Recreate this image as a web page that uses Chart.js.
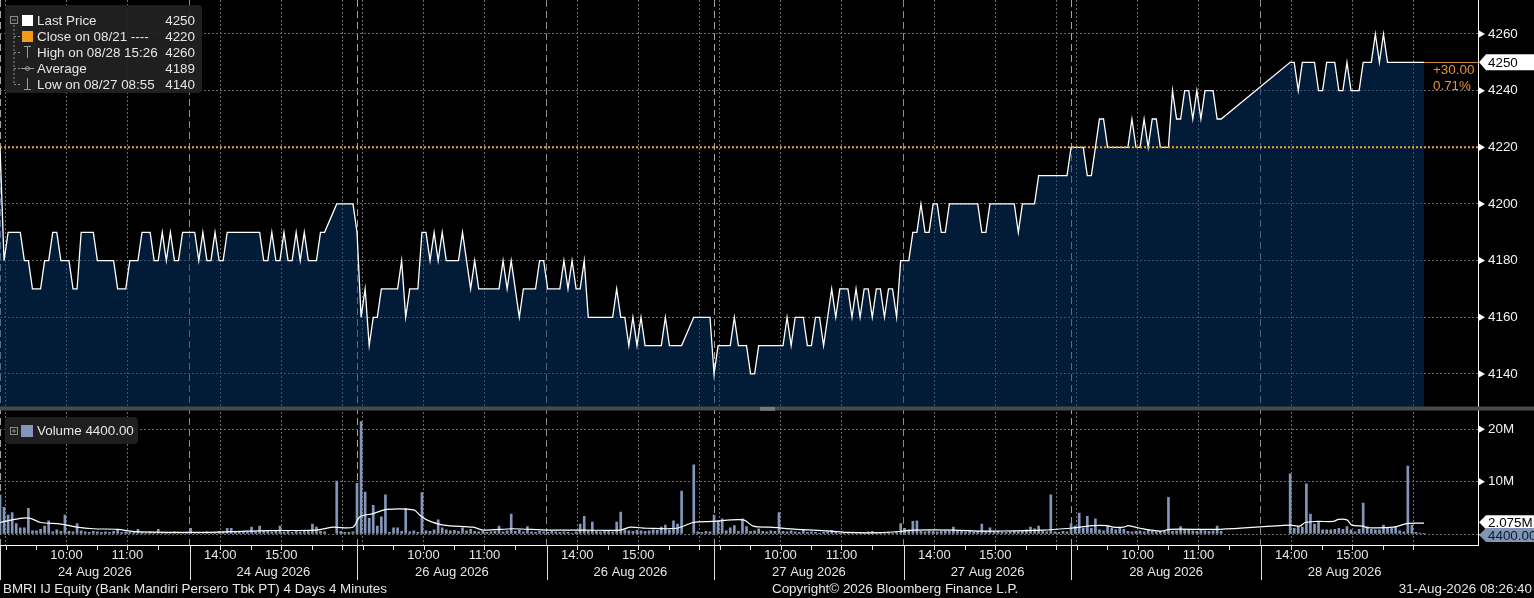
<!DOCTYPE html>
<html>
<head>
<meta charset="utf-8">
<title>BMRI IJ Equity</title>
<script src="https://cdn.jsdelivr.net/npm/chart.js@4.4.1/dist/chart.umd.min.js"></script>
<style>
  html, body { margin: 0; padding: 0; background: #000; }
  #wrap { position: relative; width: 1534px; height: 598px; background: #000; }
</style>
</head>
<body>
<div id="wrap"><canvas id="myChart"></canvas></div>
<script>
Chart.defaults.font.family = '"Liberation Sans", Arial, sans-serif';
Chart.defaults.font.size = 13;
Chart.defaults.color = '#e6e6e6';

// --- sesiones: 4 dias de 88 barras de 4 minutos ---
const SLOTS_PER_DAY = 88;
const X_MAX = 364.3;
const dayLabels = ['24 Aug 2026', '26 Aug 2026', '27 Aug 2026', '28 Aug 2026'];
const dayGridOffsets = [0, 1.4, 16.4, 31.4, 46.8, 54.3, 69.3, 84.3];
const dayGridLabels = ['', '', '10:00', '11:00', '', '14:00', '15:00', ''];
const dayGridKinds = ['day', 'hour', 'hour', 'hour', 'session', 'hour', 'hour', 'hour'];
const halfHourOffsets = [8.9, 23.9, 38.9, 61.8, 76.8];
const sessionCenters = [23.4, 67.4];

// --- precio (ultimo) por barra ---
const priceDay1 = [
  4220,4180,4190,4190,4190,4190,4180,4180,4170,4170,
  4170,4180,4180,4190,4190,4180,4180,4180,4170,4170,
  4190,4190,4190,4190,4180,4180,4180,4180,4180,4170,
  4170,4170,4180,4180,4180,4190,4190,4190,4180,4180,
  4190,4180,4190,4180,4180,4190,4190,4190,4190,4180,
  4190,4180,4180,4190,4180,4180,4190,4190,4190,4190,
  4190,4190,4190,4190,4190,4180,4180,4190,4180,4180,
  4190,4180,4180,4190,4180,4190,4180,4180,4180,4190,
  4190,null,null,4200,4200,4200,4200,4200
];
const priceDay2 = [
  4190,4160,4170,4150,4160,4160,4170,4170,4170,4170,
  4170,4180,4160,4170,4170,4170,4190,4190,4180,4190,
  4180,4190,4180,4180,4180,4180,4190,4180,4170,4180,
  4170,4170,4170,4170,4170,4170,4180,4170,4180,4170,
  4160,4170,4170,4170,4170,4180,4180,4170,4170,4170,
  4170,4180,4170,4180,4170,4170,4180,4160,4160,4160,
  4160,4160,4160,4160,4170,4160,4160,4150,4160,4150,
  4160,4150,4150,4150,4150,4150,4160,4150,4150,4150,
  4150,null,null,4160,4160,4160,4160,4160
];
const priceDay3 = [
  4140,4150,4150,4150,4150,4160,4150,4150,4150,4140,
  4140,4150,4150,4150,4150,4150,4150,4150,4160,4150,
  4160,4160,4160,4150,4150,4160,4160,4150,4160,4170,
  4160,4170,4170,4170,4160,4170,4160,4170,4170,4160,
  4170,4170,4160,4170,4170,4160,4180,4180,4180,4190,
  4190,4200,4190,4190,4200,4200,4190,4190,4200,4200,
  4200,4200,4200,4200,4200,4200,4190,4190,4200,4200,
  4200,4200,4200,4200,4200,4190,4200,4200,4200,4200,
  4210,4210,4210,4210,4210,4210,4210,4210
];
const priceDay4 = [
  4220,4220,4220,4220,4210,4210,4220,4230,4230,4220,
  4220,4220,4220,4220,4220,4230,4220,4220,4230,4220,
  4230,4230,4220,4220,4220,4240,4230,4230,4240,4240,
  4230,4240,4230,4240,4240,4240,4230,4230,null,null,
  null,null,null,null,null,null,null,null,null,null,
  null,null,null,null,4250,4250,4240,4250,4250,4250,
  4250,4240,4240,4250,4250,4250,4240,4240,4250,4240,
  4240,4240,4250,4250,4250,4260,4250,4260,4250,4250,
  4250,4250,4250,4250,4250,4250,4250,4250
];

// --- volumen por barra (millones) ---
const volumeDay1 = [
  7.5,5.1,3.6,4.1,2.0,1.2,1.2,4.9,0.6,0.6,
  0.9,1.5,2.5,0.4,0.8,0.5,3.6,0.5,0.4,2.0,
  0.6,0.4,0.3,0.5,0.4,0.3,0.4,0.3,0.5,0.9,
  0.3,0.4,0.3,0.5,0.9,0.3,0.2,0.4,0.3,0.9,
  0.3,0.2,0.3,0.4,0.2,0.3,0.3,1.1,0.3,0.2,
  0.3,0.4,0.2,0.3,0.5,0.4,1.1,1.1,0.4,0.3,
  0.5,0.4,1.3,0.4,1.5,0.5,0.6,0.4,0.5,1.5,
  0.4,0.5,0.3,0.6,0.4,0.5,0.6,1.9,1.3,0.5,
  0.4,null,null,10.1,0.5,0.3,0.3,0.4
];
const volumeDay2 = [
  9.7,21.5,8.0,3.0,5.5,1.5,3.3,7.5,0.3,1.2,
  1.2,0.5,4.9,0.4,0.6,0.3,7.9,0.6,0.5,0.8,
  2.7,1.2,0.8,0.6,0.7,0.5,1.2,0.6,0.9,0.5,
  0.4,0.5,0.3,0.4,0.5,1.5,0.4,0.6,3.8,0.5,
  0.8,0.4,1.4,0.4,0.3,0.5,0.4,0.3,0.5,0.4,
  0.3,0.4,0.3,0.2,0.4,1.9,3.4,0.6,2.3,0.5,
  0.4,0.6,0.5,0.4,2.3,4.2,0.8,0.6,0.5,0.7,
  0.6,0.5,0.6,0.8,0.7,1.3,1.7,0.8,2.5,1.9,
  8.2,null,null,13.2,0.4,0.3,0.5,0.4
];
const volumeDay3 = [
  3.6,2.5,2.9,0.6,1.2,1.6,0.5,2.9,1.4,0.5,
  0.6,1.0,0.5,0.4,0.6,0.5,4.1,0.5,0.4,0.6,
  0.4,0.3,0.9,0.3,0.4,0.3,0.2,0.3,0.4,0.7,
  0.3,0.2,0.3,0.2,0.3,0.2,0.3,0.2,0.4,0.5,
  0.2,0.3,0.2,0.3,0.2,0.3,2.0,1.1,0.8,2.4,
  2.5,0.5,0.4,0.6,0.5,0.4,0.5,0.6,0.5,1.3,
  0.6,0.5,0.4,0.5,0.4,0.5,1.9,0.5,1.2,0.4,
  0.5,0.4,0.3,0.4,0.5,0.4,0.5,0.8,1.3,1.0,
  1.5,0.5,0.4,7.5,0.4,0.3,0.5,0.4
];
const volumeDay4 = [
  2.0,1.5,4.0,1.1,3.4,1.1,2.9,0.8,0.6,1.5,
  1.1,0.8,1.1,0.9,0.5,0.4,0.5,0.6,0.4,0.9,
  0.5,0.4,0.5,0.6,7.0,0.5,0.6,1.4,0.8,0.7,
  0.6,0.5,0.7,0.6,0.5,0.6,1.5,0.5,null,null,
  null,null,null,null,null,null,null,null,null,null,
  null,null,null,null,11.5,1.1,1.5,1.3,9.6,3.8,
  1.9,2.4,0.8,0.8,0.8,0.9,1.1,0.9,1.4,0.8,
  0.4,0.9,5.9,1.4,0.9,0.8,0.8,1.7,1.1,1.1,
  1.4,0.6,0.4,13.0,1.7,0.3,0.2,0.0044
];

const maSlots = [0,5,7.5,10,15,19,23,29,33,49,57.5,65.7,78,82,87,88.7,92,95.3,102,103.5,105.2,109.3,116.7,119,126.5,134.8,143.8,152.9,155.3,159.4,166.8,170.9,175.8,183.2,185.7,189.8,196.4,204.6,208.7,216.9,222.6,225.1,235,241.6,244.9,257.2,263.8,266.2,269.5,272.8,274.4,276.9,278.1,281,285.9,288.4,300.7,317.9,320.4,321.7,324.6,328.7,329.9,332,333.2,336.1,336.9,343.5,346.8,351];
const maValues = [2.2,3.0,3.0,2.2,1.9,1.3,1.0,0.9,0.45,0.3,0.45,0.65,0.75,1.3,1.3,3.3,3.9,4.7,4.6,3.6,2.7,1.7,1.3,0.75,1.0,0.75,0.75,0.75,1.3,1.1,1.1,2.2,2.4,2.7,1.5,1.3,0.9,0.55,0.3,0.25,0.55,0.75,0.75,0.55,0.55,0.75,1.1,1.3,1.6,1.6,1.3,1.3,1.6,1.1,0.55,0.9,0.9,1.7,1.5,2.2,2.4,2.4,2.8,2.7,1.7,1.5,1.2,1.3,2.0,2.075];

const priceTicks = [4140,4150,4160,4170,4180,4190,4200,4210,4220,4230,4240,4250,4260];
const volumeTicks = [0, 5, 10, 15, 20];
const volumeTickLabels = ['', '', '10M', '', '20M'];

const prevClose = 4220;
const lastPrice = 4250;
const changeTexts = ['+30.00', '0.71%'];
const legendNames = ['Last Price', 'Close on 08/21 ----', 'High on 08/28 15:26', 'Average', 'Low on 08/27 08:55'];
const legendValues = ['4250', '4220', '4260', '4189', '4140'];
const volumeLegend = 'Volume 4400.00';
const lastVolumeText = '4400.00';
const lastAvgText = '2.075M';
const footerLeft = 'BMRI IJ Equity (Bank Mandiri Persero Tbk PT) 4 Days 4 Minutes';
const footerCenter = 'Copyright\u00a9 2026 Bloomberg Finance L.P.';
const footerRight = '31-Aug-2026 08:26:40';

const prices = [...priceDay1, ...priceDay2, ...priceDay3, ...priceDay4];
const volumes = [...volumeDay1, ...volumeDay2, ...volumeDay3, ...volumeDay4];

const xTicks = [];
dayLabels.forEach((_, d) => {
    dayGridOffsets.forEach((off, k) => {
        xTicks.push({ v: d * SLOTS_PER_DAY + off, label: dayGridLabels[k], kind: dayGridKinds[k] });
    });
});

const gridStyle = {
    day: { color: '#a3a3a3', dash: [7, 4] },
    session: { color: '#8c8c8c', dash: [7, 4] },
    hour: { color: '#6c6c6c', dash: [2, 2] }
};

const FONT = '13.4px "Liberation Sans", Arial, sans-serif';

function tagBox(ctx, left, right, yMid, h, fill, text, textColor) {
    ctx.beginPath();
    ctx.moveTo(left, yMid);
    ctx.lineTo(left + 7, yMid - h / 2);
    ctx.lineTo(right, yMid - h / 2);
    ctx.lineTo(right, yMid + h / 2);
    ctx.lineTo(left + 7, yMid + h / 2);
    ctx.closePath();
    ctx.fillStyle = fill;
    ctx.fill();
    ctx.fillStyle = textColor;
    ctx.textAlign = 'left';
    ctx.textBaseline = 'middle';
    ctx.fillText(text, left + 9, yMid + 1);
}

function roundBox(ctx, x, y, w, h, r, fill) {
    ctx.beginPath();
    ctx.moveTo(x + r, y);
    ctx.arcTo(x + w, y, x + w, y + h, r);
    ctx.arcTo(x + w, y + h, x, y + h, r);
    ctx.arcTo(x, y + h, x, y, r);
    ctx.arcTo(x, y, x + w, y, r);
    ctx.closePath();
    ctx.fillStyle = fill;
    ctx.fill();
}

// dibujos extra estilo terminal: leyendas, etiquetas, separador, fechas
const terminalExtras = {
    id: 'terminalExtras',
    afterDraw(chart) {
        const { ctx, chartArea, scales } = chart;
        const xs = scales.x, ys = scales.y, yv = scales.yv;
        const W = chart.width;
        ctx.save();
        ctx.font = FONT;

        // linea naranja del ultimo precio hasta el eje
        const lastX = xs.getPixelForValue(prices.length - 1);
        const lastY = Math.round(ys.getPixelForValue(lastPrice)) + 0.5;
        ctx.strokeStyle = '#d08d3c';
        ctx.lineWidth = 1;
        ctx.beginPath();
        ctx.moveTo(lastX, lastY);
        ctx.lineTo(chartArea.right, lastY);
        ctx.stroke();
        ctx.fillStyle = '#e39334';
        ctx.textAlign = 'left';
        ctx.textBaseline = 'middle';
        ctx.fillText(changeTexts[0], 1433, 70);
        ctx.fillText(changeTexts[1], 1433, 86);

        // separador entre paneles
        const sepY = ys.bottom;
        ctx.fillStyle = '#4a4a4a';
        ctx.fillRect(0, sepY - 2, W, 4);
        ctx.strokeStyle = '#a8a8a8';
        ctx.beginPath();
        ctx.moveTo(760, sepY - 0.5); ctx.lineTo(775, sepY - 0.5);
        ctx.moveTo(760, sepY + 1.5); ctx.lineTo(775, sepY + 1.5);
        ctx.stroke();

        // triangulos en ticks con etiqueta
        const ax = chartArea.right;
        ctx.fillStyle = '#ffffff';
        const tri = (py) => {
            ctx.beginPath();
            ctx.moveTo(ax + 1, py - 3.5);
            ctx.lineTo(ax + 7, py);
            ctx.lineTo(ax + 1, py + 3.5);
            ctx.closePath();
            ctx.fill();
        };
        priceTicks.forEach(v => { if (v % 20 === 0) tri(ys.getPixelForValue(v)); });
        volumeTicks.forEach((v, i) => { if (volumeTickLabels[i]) tri(yv.getPixelForValue(v)); });

        // etiquetas de valor en el eje
        tagBox(ctx, ax + 1, W, ys.getPixelForValue(lastPrice), 16, '#ffffff', String(lastPrice), '#000000');
        const maLast = maValues[maValues.length - 1];
        tagBox(ctx, ax + 1, W, yv.getPixelForValue(maLast) - 1, 14, '#ffffff', lastAvgText, '#000000');
        tagBox(ctx, ax + 1, W, yv.getPixelForValue(0) + 1, 14, '#8094b6', lastVolumeText, '#0e1a30');

        // leyenda del precio
        roundBox(ctx, 5, 5, 197, 88, 4, 'rgba(34,34,34,0.92)');
        ctx.strokeStyle = '#8a8a8a';
        ctx.lineWidth = 1;
        ctx.strokeRect(10.5, 16.5, 7, 7);
        ctx.beginPath(); ctx.moveTo(12, 20); ctx.lineTo(16, 20); ctx.stroke();
        ctx.setLineDash([2, 2]);
        ctx.beginPath();
        ctx.moveTo(14, 25); ctx.lineTo(14, 85);
        [36.5, 52.5, 68.5, 84.5].forEach(yy => { ctx.moveTo(14, yy); ctx.lineTo(20, yy); });
        ctx.stroke();
        ctx.setLineDash([]);
        ctx.fillStyle = '#ffffff';
        ctx.fillRect(22, 15, 11, 11);
        ctx.fillStyle = '#f39a1e';
        ctx.fillRect(22, 31, 11, 11);
        ctx.strokeStyle = '#9a9a9a';
        ctx.beginPath();
        ctx.moveTo(27.5, 46); ctx.lineTo(27.5, 58);
        ctx.moveTo(24, 46.5); ctx.lineTo(31, 46.5);
        ctx.moveTo(21, 68.5); ctx.lineTo(34, 68.5);
        ctx.moveTo(27.5, 78); ctx.lineTo(27.5, 90);
        ctx.moveTo(24, 89.5); ctx.lineTo(31, 89.5);
        ctx.stroke();
        ctx.beginPath(); ctx.arc(27.5, 68.5, 2, 0, Math.PI * 2); ctx.stroke();
        ctx.fillStyle = '#e6e6e6';
        ctx.textBaseline = 'middle';
        legendNames.forEach((name, i) => {
            const yy = 21 + 16 * i;
            ctx.textAlign = 'left';
            ctx.fillText(name, 37, yy);
            ctx.textAlign = 'right';
            ctx.fillText(legendValues[i], 195, yy);
        });

        // leyenda del volumen
        roundBox(ctx, 5, 417, 133, 27, 4, 'rgba(34,34,34,0.92)');
        ctx.strokeStyle = '#8a8a8a';
        ctx.strokeRect(10.5, 427.5, 7, 7);
        ctx.beginPath();
        ctx.moveTo(12, 431); ctx.lineTo(16, 431);
        ctx.moveTo(14, 429); ctx.lineTo(14, 433);
        ctx.stroke();
        ctx.fillStyle = '#8296b9';
        ctx.fillRect(21, 425, 12, 12);
        ctx.fillStyle = '#e6e6e6';
        ctx.textAlign = 'left';
        ctx.fillText(volumeLegend, 37, 431);

        // marcas del eje de tiempo, separadores de sesion y fechas
        const axisY = chartArea.bottom;
        ctx.strokeStyle = '#e0e0e0';
        ctx.beginPath();
        dayLabels.forEach((label, d) => {
            const base = d * SLOTS_PER_DAY;
            halfHourOffsets.forEach(off => {
                const px = Math.round(xs.getPixelForValue(base + off)) + 0.5;
                ctx.moveTo(px, axisY); ctx.lineTo(px, axisY + 5);
            });
            dayGridOffsets.forEach((off, k) => {
                const px = Math.round(xs.getPixelForValue(base + off)) + 0.5;
                const len = dayGridKinds[k] === 'hour' ? 5 : 35;
                ctx.moveTo(px, axisY); ctx.lineTo(px, axisY + len);
            });
        });
        ctx.stroke();
        ctx.font = '13px "Liberation Sans", Arial, sans-serif';
        ctx.fillStyle = '#e6e6e6';
        ctx.textAlign = 'center';
        dayLabels.forEach((label, d) => {
            sessionCenters.forEach(off => {
                ctx.fillText(label, xs.getPixelForValue(d * SLOTS_PER_DAY + off), 572);
            });
        });

        // pie
        ctx.font = FONT;
        ctx.textAlign = 'left';
        ctx.fillText(footerLeft, 3, 589);
        ctx.fillText(footerCenter, 772, 589);
        ctx.textAlign = 'right';
        ctx.fillText(footerRight, 1532, 589);
        ctx.restore();
    }
};

const ctx = document.getElementById('myChart').getContext('2d');
new Chart(ctx, {
    type: 'bar',
    data: {
        datasets: [
            {
                type: 'line',
                label: 'Close on 08/21',
                data: [{ x: 0, y: prevClose }, { x: X_MAX, y: prevClose }],
                yAxisID: 'y',
                borderColor: '#f5a032',
                borderWidth: 2,
                borderDash: [2, 2],
                pointRadius: 0,
                fill: false,
                order: 1
            },
            {
                type: 'line',
                label: 'Last Price',
                data: prices.map((v, i) => ({ x: i, y: v })),
                yAxisID: 'y',
                borderColor: '#ffffff',
                borderWidth: 1.3,
                pointRadius: 0,
                tension: 0,
                spanGaps: true,
                fill: 'start',
                backgroundColor: 'rgba(4,56,112,0.5)',
                order: 2
            },
            {
                type: 'line',
                label: 'Volume average',
                data: maSlots.map((s, i) => ({ x: s, y: maValues[i] })),
                yAxisID: 'yv',
                borderColor: '#ffffff',
                borderWidth: 1.2,
                pointRadius: 0,
                tension: 0.3,
                fill: false,
                order: 3
            },
            {
                type: 'bar',
                label: 'Volume',
                data: volumes.map((v, i) => ({ x: i, y: v })),
                yAxisID: 'yv',
                backgroundColor: '#8296b9',
                barThickness: 2,
                order: 4
            }
        ]
    },
    options: {
        responsive: true,
        maintainAspectRatio: false,
        animation: false,
        events: [],
        layout: { padding: 0 },
        plugins: {
            legend: { display: false },
            tooltip: { enabled: false }
        },
        scales: {
            x: {
                type: 'linear',
                position: 'bottom',
                min: 0,
                max: X_MAX,
                offset: false,
                afterBuildTicks: (scale) => { scale.ticks = xTicks.map(t => ({ value: t.v })); },
                afterFit: (scale) => { scale.height = 53; scale.paddingLeft = 0; scale.paddingRight = 0; },
                ticks: {
                    autoSkip: false,
                    maxRotation: 0,
                    padding: 3,
                    color: '#e6e6e6',
                    callback: (value, index) => (xTicks[index] ? xTicks[index].label : '')
                },
                grid: {
                    offset: false,
                    drawTicks: false,
                    lineWidth: 1,
                    color: (c) => (c.tick && xTicks[c.index] ? gridStyle[xTicks[c.index].kind].color : '#ffffff')
                },
                border: {
                    color: '#ffffff',
                    width: 1,
                    dash: (c) => (c.tick && xTicks[c.index] ? gridStyle[xTicks[c.index].kind].dash : [])
                }
            },
            y: {
                type: 'linear',
                position: 'right',
                stack: 'panes',
                stackWeight: 408.5,
                min: 4127.8,
                max: 4272,
                afterBuildTicks: (scale) => { scale.ticks = priceTicks.map(v => ({ value: v })); },
                afterFit: (scale) => { scale.width = 56; scale.paddingTop = 0; scale.paddingBottom = 0; },
                ticks: {
                    padding: 5,
                    color: '#f2f2f2',
                    font: { size: 13.4 },
                    callback: (v) => (v % 20 === 0 ? String(v) : '')
                },
                grid: {
                    tickLength: 5,
                    tickColor: '#ffffff',
                    color: (c) => (c.tick && c.tick.value % 20 === 0 ? '#6c6c6c' : 'rgba(0,0,0,0)')
                },
                border: { color: '#ffffff', width: 1, dash: (c) => (c.tick ? [2, 2] : []) }
            },
            yv: {
                type: 'linear',
                position: 'right',
                stack: 'panes',
                stackWeight: 136.5,
                min: -2.1,
                max: 23.98,
                afterBuildTicks: (scale) => { scale.ticks = volumeTicks.map(v => ({ value: v })); },
                afterFit: (scale) => { scale.width = 56; scale.paddingTop = 0; scale.paddingBottom = 0; },
                ticks: {
                    padding: 5,
                    color: '#f2f2f2',
                    font: { size: 13.4 },
                    callback: (v, i) => volumeTickLabels[i] || ''
                },
                grid: {
                    tickLength: 5,
                    tickColor: '#ffffff',
                    color: (c) => (c.tick && c.tick.value % 10 === 0 ? '#6c6c6c' : 'rgba(0,0,0,0)')
                },
                border: { color: '#ffffff', width: 1, dash: (c) => (c.tick ? [2, 2] : []) }
            }
        }
    },
    plugins: [terminalExtras]
});
</script>
</body>
</html>
